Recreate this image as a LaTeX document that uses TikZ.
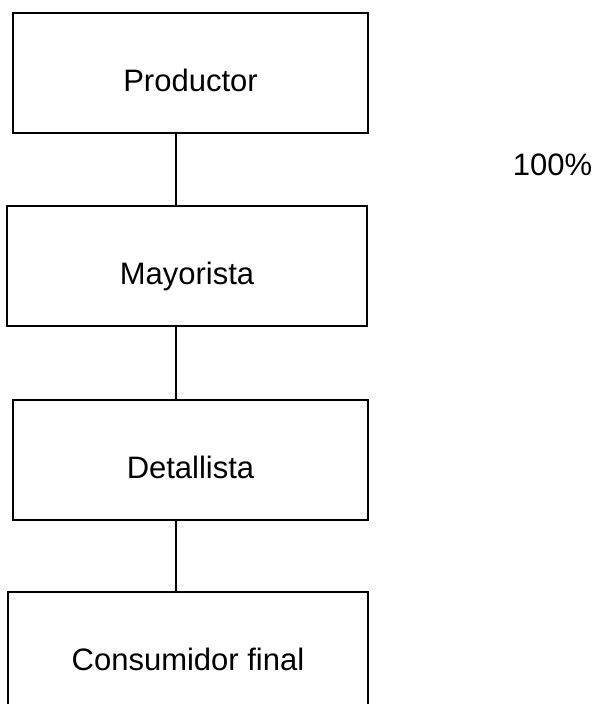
\documentclass[tikz,border=0pt]{standalone}
\usepackage{fontspec}
\setmainfont{Liberation Sans}
\usepackage{tikz}

\begin{document}
\begin{tikzpicture}[x=1pt, y=-1pt,
                    every node/.style={font=\fontsize{31}{37}\selectfont},
                    canal/.style={draw, line width=2.2pt, inner sep=0pt,
                                  text height=36pt, text depth=0pt,
                                  minimum height=120pt},
                    enlace/.style={line width=2.2pt}]
  \useasboundingbox (0,0) rectangle (597,704);
  \begin{scope}
    \clip (0,0) rectangle (597,704);
    \node[canal, minimum width=355pt] (prod) at (190.5,73)  {Productor};
    \node[canal, minimum width=360pt] (may)  at (187,266)   {Mayorista};
    \node[canal, minimum width=355pt] (det)  at (190.5,460) {Detallista};
    \node[canal, minimum width=360pt] (cons) at (188,652)   {Consumidor final};
  \end{scope}
  \node (pct) at (552.5,165) {100\%};
  \coordinate (eje) at (176,0);
  \draw[enlace] (prod.south -| eje) -- (may.north -| eje);
  \draw[enlace] (may.south -| eje) -- (det.north -| eje);
  \draw[enlace] (det.south -| eje) -- (cons.north -| eje);
\end{tikzpicture}
\end{document}
